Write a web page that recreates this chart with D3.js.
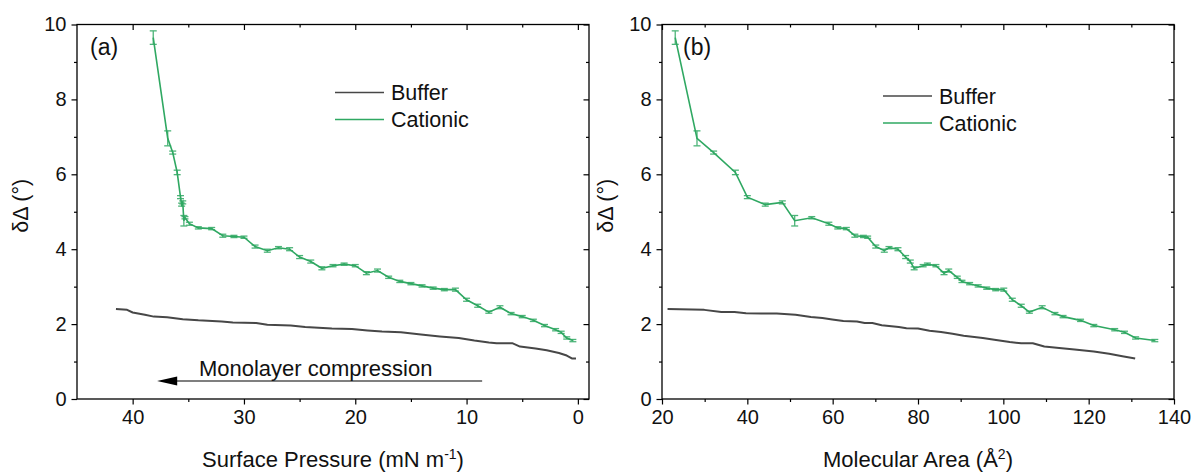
<!DOCTYPE html>
<html>

<head>
    <title>Ellipsometry</title>
    <script src="https://d3js.org/d3.v7.min.js"></script>
    <style>
        body {
            margin: 0;
            padding: 0;
            background: #fff;
            overflow: hidden;
        }

        text {
            font-family: "Liberation Sans", Arial, sans-serif;
            fill: #111;
        }
    </style>
</head>

<body>
    <script>
        // axis ticks
        var pressureTicks = [40, 30, 20, 10, 0],
            pressureMinor = [35, 25, 15, 5],
            areaTicks = [20, 40, 60, 80, 100, 120, 140],
            areaMinor = [30, 50, 70, 90, 110, 130],
            deltaTicks = [0, 2, 4, 6, 8, 10],
            deltaMinor = [1, 3, 5, 7, 9];

        var seriesNames = ["Buffer", "Cationic"];

        // buffer, panel (a): surface pressure vs dDelta
        var bufferPressure = [41.5, 40.5, 40.0, 38.9, 38.1, 36.9, 35.5, 34.1, 32.0, 31.0, 28.9, 27.9, 25.8, 24.5, 22.1, 20.3, 18.9, 17.6, 15.9, 14.1, 12.4, 10.7, 9.3, 8.0, 7.3, 5.9, 5.2, 3.8, 2.8, 1.7, 1.0, 0.5, 0.17];
        var bufferDeltaA = [2.40, 2.38, 2.31, 2.25, 2.20, 2.18, 2.13, 2.10, 2.07, 2.04, 2.03, 1.98, 1.96, 1.92, 1.88, 1.87, 1.83, 1.80, 1.78, 1.72, 1.67, 1.63, 1.56, 1.51, 1.49, 1.49, 1.40, 1.35, 1.30, 1.23, 1.16, 1.08, 1.08];

        // buffer, panel (b): molecular area vs dDelta
        var bufferArea = [21.3, 29.9, 33.9, 37.0, 39.7, 43.3, 46.9, 51.3, 54.9, 57.6, 59.9, 62.5, 65.7, 67.5, 69.3, 71.5, 75.5, 77.3, 80.0, 82.7, 85.4, 88.1, 90.7, 95.2, 97.9, 101.5, 104.2, 106.9, 109.6, 113.1, 116.7, 121.2, 124.8, 127.9, 130.9];
        var bufferDeltaB = [2.40, 2.38, 2.32, 2.32, 2.29, 2.28, 2.28, 2.25, 2.19, 2.16, 2.12, 2.08, 2.07, 2.03, 2.03, 1.97, 1.92, 1.89, 1.88, 1.82, 1.79, 1.74, 1.69, 1.63, 1.58, 1.52, 1.49, 1.49, 1.40, 1.36, 1.32, 1.27, 1.21, 1.14, 1.08];

        // cationic: same points, plotted against pressure (a) and area (b)
        var cationicPressure = [38.15, 36.85, 36.4, 36.0, 35.7, 35.6, 35.5, 35.4, 35.3, 34.9, 34.1, 32.9, 31.9, 30.9, 30.0, 29.0, 27.9, 26.9, 25.9, 25.0, 24.0, 23.0, 22.0, 21.0, 20.0, 19.0, 18.0, 17.0, 16.0, 15.0, 14.0, 13.0, 12.0, 11.0, 10.0, 9.0, 8.0, 7.0, 6.0, 5.0, 4.0, 3.0, 2.0, 1.5, 1.0, 0.45];
        var cationicArea = [23.1, 28.2, 32.1, 37.2, 40.0, 44.2, 48.2, 51.1, 55.1, 59.1, 61.2, 63.2, 65.2, 67.2, 68.2, 70.1, 72.1, 73.2, 75.3, 77.1, 78.2, 79.1, 81.2, 82.2, 84.2, 86.1, 87.2, 89.2, 90.3, 92.1, 94.1, 96.1, 98.2, 100.1, 102.1, 104.2, 106.1, 109.1, 112.1, 114.0, 118.1, 121.2, 126.1, 128.4, 131.0, 135.5];
        var cationicDelta = [9.65, 6.96, 6.58, 6.05, 5.39, 5.19, 5.25, 4.76, 4.84, 4.68, 4.57, 4.55, 4.36, 4.34, 4.32, 4.07, 3.96, 4.04, 4.00, 3.79, 3.67, 3.49, 3.56, 3.60, 3.56, 3.36, 3.43, 3.25, 3.14, 3.08, 3.02, 2.96, 2.92, 2.92, 2.65, 2.49, 2.32, 2.45, 2.28, 2.20, 2.10, 1.96, 1.85, 1.78, 1.63, 1.56];
        var cationicErr = [0.18, 0.20, 0.04, 0.06, 0.04, 0.04, 0.04, 0.14, 0.03, 0.04, 0.03, 0.03, 0.04, 0.03, 0.03, 0.04, 0.04, 0.03, 0.04, 0.04, 0.04, 0.04, 0.03, 0.03, 0.03, 0.04, 0.04, 0.03, 0.03, 0.03, 0.03, 0.03, 0.03, 0.04, 0.04, 0.04, 0.03, 0.04, 0.03, 0.03, 0.03, 0.03, 0.03, 0.03, 0.03, 0.03];

        var width = 1194,
            height = 474,
            plotTop = 24.5,
            plotBottom = 399;

        var grey = "#474747",
            green = "#2fa862";

        var svg = d3.select("body").append("svg")
            .attr("width", width)
            .attr("height", height);

        var y = d3.scaleLinear().domain([0, 10]).range([plotBottom, plotTop]);

        var panels = [
            {
                label: "(a)", labelX: 90, left: 77, right: 589, domain: [45, -1],
                ticks: pressureTicks, minor: pressureMinor,
                title: ["Surface Pressure (mN m", "-1", ")"],
                bufX: bufferPressure, bufY: bufferDeltaA, catX: cationicPressure,
                legendX: 335, legendY: 92.5,
                arrow: true
            },
            {
                label: "(b)", labelX: 683, left: 662, right: 1174, domain: [20, 140],
                ticks: areaTicks, minor: areaMinor,
                title: ["Molecular Area (Å", "2", ")"],
                bufX: bufferArea, bufY: bufferDeltaB, catX: cationicArea,
                legendX: 883, legendY: 96,
                arrow: false
            }
        ];

        panels.forEach(function (p) {
            var x = d3.scaleLinear().domain(p.domain).range([p.left, p.right]);
            var g = svg.append("g");

            // axes: outward on bottom/left, inward on top/right
            function axis(gen, sc, vals, size, pos, labels) {
                var a = gen(sc).tickValues(vals).tickSize(size).tickPadding(5);
                if (!labels) a.tickFormat("");
                var ag = g.append("g").attr("transform", pos).call(a);
                ag.select(".domain").remove();
                ag.selectAll("line").attr("stroke", "#000").attr("stroke-width", 1.2);
                ag.selectAll("text").style("font-size", "20px").attr("fill", "#111")
                    .style("font-family", "'Liberation Sans', Arial, sans-serif");
                return ag;
            }
            axis(d3.axisBottom, x, p.ticks, 5.5, "translate(0," + plotBottom + ")", true);
            axis(d3.axisBottom, x, p.minor, 3, "translate(0," + plotBottom + ")", false);
            axis(d3.axisTop, x, p.ticks, -5.5, "translate(0," + plotTop + ")", false);
            axis(d3.axisTop, x, p.minor, -3, "translate(0," + plotTop + ")", false);
            axis(d3.axisLeft, y, deltaTicks, 5.5, "translate(" + p.left + ",0)", true);
            axis(d3.axisLeft, y, deltaMinor, 3, "translate(" + p.left + ",0)", false);
            axis(d3.axisRight, y, deltaTicks, -5.5, "translate(" + p.right + ",0)", false);
            axis(d3.axisRight, y, deltaMinor, -3, "translate(" + p.right + ",0)", false);

            g.append("rect")
                .attr("x", p.left).attr("y", plotTop)
                .attr("width", p.right - p.left).attr("height", plotBottom - plotTop)
                .attr("fill", "none").attr("stroke", "#000").attr("stroke-width", 1.3);

            // buffer line
            var bufPts = p.bufX.map(function (v, i) { return [v, p.bufY[i]]; });
            g.append("path")
                .datum(bufPts)
                .attr("fill", "none")
                .attr("stroke", grey)
                .attr("stroke-width", 2)
                .attr("stroke-linejoin", "round")
                .attr("d", d3.line().x(function (d) { return x(d[0]); }).y(function (d) { return y(d[1]); }));

            // cationic line with error bars
            var catPts = p.catX.map(function (v, i) { return [v, cationicDelta[i], cationicErr[i]]; });
            g.append("path")
                .datum(catPts)
                .attr("fill", "none")
                .attr("stroke", green)
                .attr("stroke-width", 1.6)
                .attr("d", d3.line().x(function (d) { return x(d[0]); }).y(function (d) { return y(d[1]); }));

            var err = g.append("g").attr("stroke", green).attr("stroke-width", 1.3).attr("opacity", 0.85);
            catPts.forEach(function (d) {
                var cx = x(d[0]), y1 = y(d[1] + d[2]), y2 = y(d[1] - d[2]);
                err.append("line").attr("x1", cx).attr("x2", cx).attr("y1", y1).attr("y2", y2);
                err.append("line").attr("x1", cx - 3.5).attr("x2", cx + 3.5).attr("y1", y1).attr("y2", y1);
                err.append("line").attr("x1", cx - 3.5).attr("x2", cx + 3.5).attr("y1", y2).attr("y2", y2);
            });

            // panel label
            g.append("text")
                .attr("x", p.labelX).attr("y", 55)
                .style("font-size", "23px")
                .text(p.label);

            // legend
            var leg = g.append("g");
            [grey, green].forEach(function (c, i) {
                var ly = p.legendY + i * 27;
                leg.append("line")
                    .attr("x1", p.legendX).attr("x2", p.legendX + 49)
                    .attr("y1", ly).attr("y2", ly)
                    .attr("stroke", c).attr("stroke-width", 1.6);
                leg.append("text")
                    .attr("x", p.legendX + 56).attr("y", ly + 7.5)
                    .style("font-size", "21.5px")
                    .text(seriesNames[i]);
            });

            // x title
            var t = g.append("text")
                .attr("x", (p.left + p.right) / 2).attr("y", 467)
                .attr("text-anchor", "middle")
                .style("font-size", "22px");
            t.append("tspan").text(p.title[0]);
            t.append("tspan").attr("dy", -8).style("font-size", "14px").text(p.title[1]);
            t.append("tspan").attr("dy", 8).text(p.title[2]);

            // y title
            g.append("text")
                .attr("transform", "translate(" + (p.left - 49) + "," + ((plotTop + plotBottom) / 2 - 6) + ") rotate(-90)")
                .attr("text-anchor", "middle")
                .style("font-size", "21.5px")
                .text("δΔ (°)");

            if (p.arrow) {
                var ay = y(0.48);
                g.append("line")
                    .attr("x1", x(8.6)).attr("x2", x(36.2))
                    .attr("y1", ay).attr("y2", ay)
                    .attr("stroke", "#000").attr("stroke-width", 1.2);
                g.append("path")
                    .attr("d", "M" + x(37.8) + "," + ay + "L" + x(36.0) + "," + (ay - 4.5) + "L" + x(36.0) + "," + (ay + 4.5) + "Z")
                    .attr("fill", "#000");
                g.append("text")
                    .attr("x", x(34.05)).attr("y", y(0.62))
                    .style("font-size", "22px")
                    .text("Monolayer compression");
            }
        });
    </script>
</body>

</html>
